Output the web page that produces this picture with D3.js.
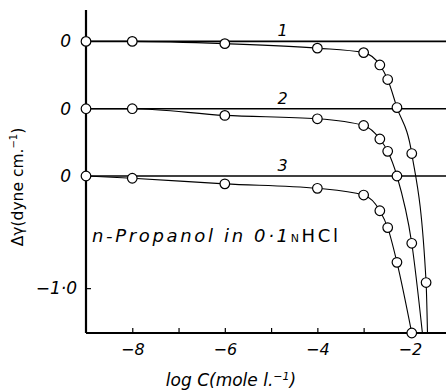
<!DOCTYPE html>
<html>
<head>
<meta charset="utf-8">
<script src="https://cdn.jsdelivr.net/npm/d3@7"></script>
<style>
  body { margin: 0; background: #fff; }
  svg { display: block; }
</style>
</head>
<body>
<div id="chart"></div>
<script>
// log C of the measured points (same for all three curves)
const logC = [-9, -8, -6, -4, -3, -2.65, -2.48, -2.28, -1.96, -1.65];

// Δγ (dyne/cm) of each curve
const curve1 = [0, 0, -0.02, -0.06, -0.1, -0.21, -0.34, -0.59, -1.0, -2.15];
const curve2 = [0, 0, -0.06, -0.09, -0.15, -0.27, -0.38, -0.6, -1.2];
const curve3 = [0, -0.02, -0.07, -0.11, -0.17, -0.31, -0.46, -0.77, -1.4];

// where curves 1 and 2 run off the bottom of the frame (no marker)
const tailX = [-1.62, -1.73];
const tailY = [-2.6, -2.0];

// vertical shift of each curve's zero line
const offsets = [1.2, 0.6, 0];
const curveNames = ["1", "2", "3"];

const xTicks = [-8, -7, -6, -5, -4, -3, -2];
const xLabels = [-8, -6, -4, -2];

const W = 446, H = 391;
const x = d3.scaleLinear().domain([-9, -1.22]).range([86, 446]);
const y = d3.scaleLinear().domain([-1.4, 1.48]).range([333, 10]);

const svg = d3.select("#chart").append("svg")
    .attr("width", W).attr("height", H);

svg.append("clipPath").attr("id", "plot")
  .append("rect").attr("x", 86).attr("y", 0).attr("width", W - 86).attr("height", 333);

const series = [curve1, curve2, curve3].map((vals, i) => {
    const pts = vals.map((v, j) => ({ x: logC[j], y: v + offsets[i] }));
    const line = pts.slice();
    if (i < 2) line.push({ x: tailX[i], y: tailY[i] + offsets[i] });
    return { pts, line, off: offsets[i], name: curveNames[i] };
});

// zero lines
svg.selectAll(".zero").data(series).enter().append("line")
    .attr("x1", x(-9)).attr("x2", W)
    .attr("y1", d => y(d.off)).attr("y2", d => y(d.off))
    .attr("stroke", "#000").attr("stroke-width", 1.6);

// curve numbers
svg.selectAll(".num").data(series).enter().append("text")
    .attr("x", x(-4.75)).attr("y", d => y(d.off) - 5)
    .attr("text-anchor", "middle")
    .style("font-family", "DejaVu Sans, sans-serif")
    .style("font-style", "italic")
    .style("font-size", "16px")
    .text(d => d.name);

// curves
const lineGen = d3.line().x(d => x(d.x)).y(d => y(d.y)).curve(d3.curveMonotoneX);
svg.selectAll(".curve").data(series).enter().append("path")
    .attr("d", d => lineGen(d.line))
    .attr("clip-path", "url(#plot)")
    .attr("fill", "none").attr("stroke", "#000").attr("stroke-width", 1.1);

// axes
const xAxis = svg.append("g")
    .attr("transform", `translate(0,${y(-1.4)})`)
    .call(d3.axisBottom(x).tickValues(xTicks).tickSize(-5).tickPadding(11)
        .tickFormat(d => xLabels.includes(d) ? "\u2212" + Math.abs(d) : ""));
xAxis.select(".domain").attr("d", `M${x(-9)},0H${W}`).attr("stroke-width", 2.2);
xAxis.selectAll(".tick line").attr("stroke-width", 1.2);
xAxis.selectAll("text")
    .style("font-family", "DejaVu Sans, sans-serif")
    .style("font-style", "italic")
    .style("font-size", "16px")
    .attr("fill", "#000");

const yAxis = svg.append("g")
    .attr("transform", `translate(${x(-9)},0)`)
    .call(d3.axisLeft(y).tickValues([...offsets, -1]).tickSize(-5).tickPadding(16)
        .tickFormat(d => d === -1 ? "\u22121\u00b70" : "0"));
yAxis.select(".domain").attr("d", `M0,10V${y(-1.4)}`).attr("stroke-width", 2.2);
yAxis.selectAll(".tick line").attr("stroke-width", 1.2);
yAxis.selectAll("text")
    .style("font-family", "DejaVu Sans, sans-serif")
    .style("font-style", "italic")
    .style("font-size", "17px")
    .attr("fill", "#000")
    .attr("x", d => d === -1 ? -9 : -15);

// markers
svg.selectAll(".pts").data(series).enter().append("g")
  .selectAll("circle").data(d => d.pts).enter().append("circle")
    .attr("cx", d => x(d.x)).attr("cy", d => y(d.y)).attr("r", 4.8)
    .attr("fill", "#fff").attr("stroke", "#000").attr("stroke-width", 1.2);

// annotation
const note = svg.append("text")
    .attr("x", 92).attr("y", 242)
    .attr("textLength", 246).attr("lengthAdjust", "spacing")
    .style("font-family", "DejaVu Sans, sans-serif")
    .style("font-style", "italic")
    .style("font-size", "18px");
note.append("tspan").text("n-Propanol in 0\u00b71");
note.append("tspan").style("font-size", "11px").style("font-style", "normal").text("N");
note.append("tspan").style("font-style", "normal").text("HCl");

// axis titles
const xt = svg.append("text")
    .attr("x", 231).attr("y", 386).attr("text-anchor", "middle")
    .style("font-family", "DejaVu Sans, sans-serif")
    .style("font-style", "italic")
    .style("font-size", "17px");
xt.append("tspan").text("log C(mole l.");
xt.append("tspan").attr("dy", -6).style("font-size", "11px").text("\u22121");
xt.append("tspan").attr("dy", 6).text(")");

const yt = svg.append("text")
    .attr("transform", "translate(23,187) rotate(-90)")
    .attr("text-anchor", "middle")
    .style("font-family", "DejaVu Sans, sans-serif")
    .style("font-size", "15.5px");
yt.append("tspan").text("\u0394\u03b3(dyne cm.");
yt.append("tspan").attr("dy", -6).style("font-size", "10px").text("\u22121");
yt.append("tspan").attr("dy", 6).text(")");
</script>
</body>
</html>
